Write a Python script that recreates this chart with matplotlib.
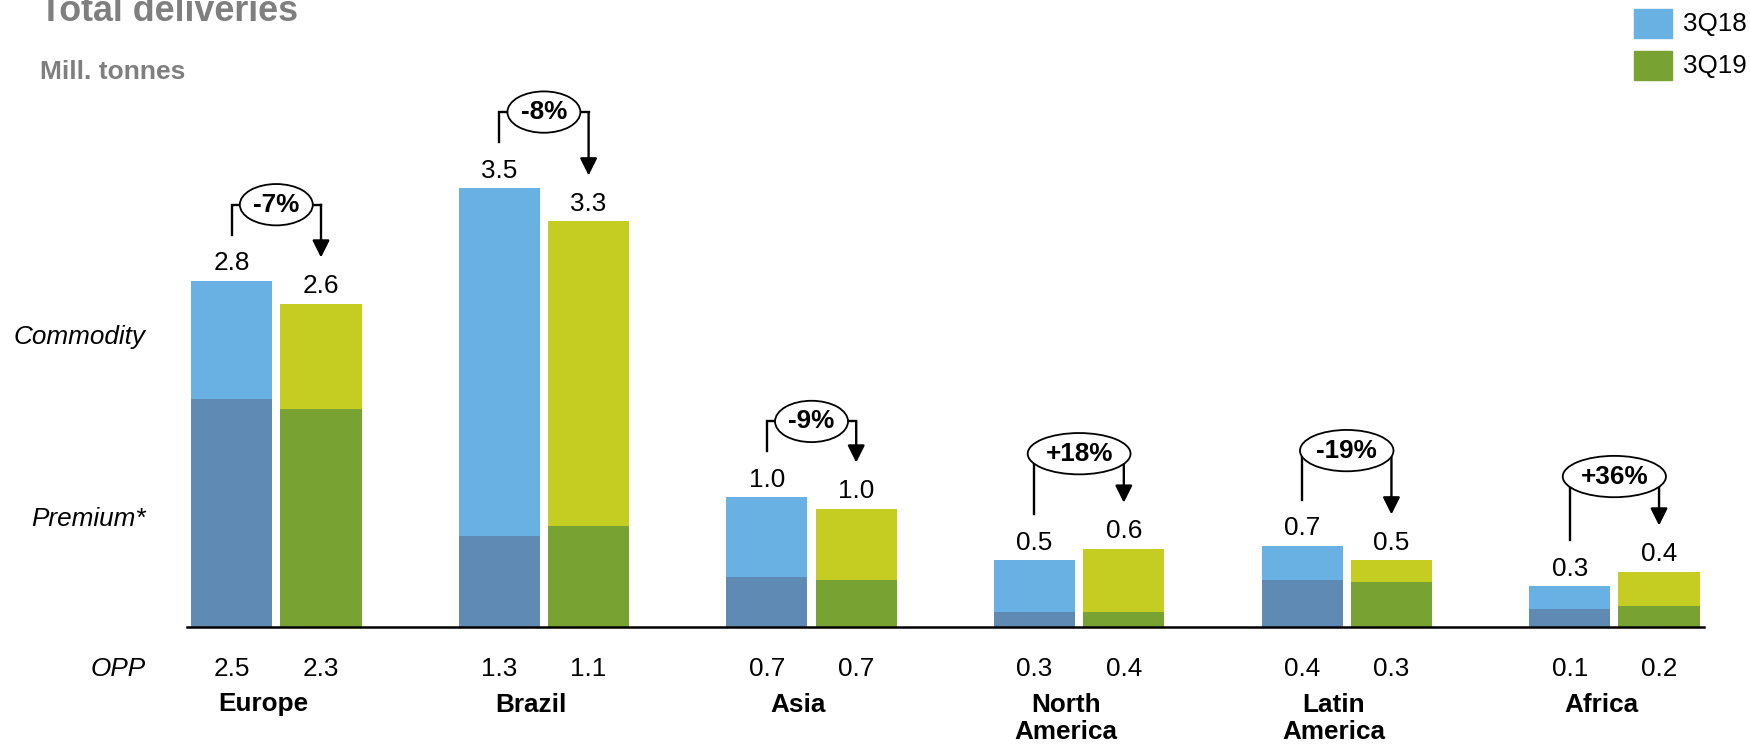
import matplotlib
matplotlib.use("Agg")
import matplotlib.pyplot as plt
from matplotlib.patches import Rectangle
from matplotlib.transforms import blended_transform_factory

plt.rcParams["font.family"] = ["Liberation Sans", "DejaVu Sans"]

# data
regions = ["Europe", "Brazil", "Asia", "North\nAmerica", "Latin\nAmerica", "Africa"]
total_18 = [2.80, 3.55, 1.045, 0.535, 0.655, 0.325]
total_19 = [2.615, 3.28, 0.955, 0.63, 0.535, 0.445]
premium_18 = [1.84, 0.73, 0.40, 0.115, 0.38, 0.14]
premium_19 = [1.765, 0.81, 0.38, 0.12, 0.36, 0.17]
label_18 = ["2.8", "3.5", "1.0", "0.5", "0.7", "0.3"]
label_19 = ["2.6", "3.3", "1.0", "0.6", "0.5", "0.4"]
opp_18 = ["2.5", "1.3", "0.7", "0.3", "0.4", "0.1"]
opp_19 = ["2.3", "1.1", "0.7", "0.4", "0.3", "0.2"]
change = ["-7%", "-8%", "-9%", "+18%", "-19%", "+36%"]

# colours
light_blue = "#69B1E3"
dark_blue = "#5F8AB4"
lime = "#C5CC22"
green = "#78A232"
grey = "#7F7F7F"

FS = 18.8
W, H = 1750, 744
fig = plt.figure(figsize=(W / 100, H / 100), dpi=100)
ax = fig.add_axes([187 / W, 117.5 / H, (1704 - 187) / W, 537 / H])
px = 123.5  # pixels per data unit (vertical)
ax.set_xlim(-0.3337, 5.335)
ax.set_ylim(0, 537 / px)

x = list(range(len(regions)))
bw = 0.303
off = 0.167
x18 = [i - off for i in x]
x19 = [i + off for i in x]

ax.bar(x18, total_18, bw, color=light_blue, zorder=2)
ax.bar(x18, premium_18, bw, color=dark_blue, zorder=2)
ax.bar(x19, total_19, bw, color=lime, zorder=2)
ax.bar(x19, premium_19, bw, color=green, zorder=2)

for xs, tops, labs in [(x18, total_18, label_18), (x19, total_19, label_19)]:
    for xi, t, lab in zip(xs, tops, labs):
        ax.annotate(lab, (xi, t), xytext=(0, 4), textcoords="offset points",
                    ha="center", va="bottom", fontsize=FS)

# change brackets
for i in x:
    a, b = total_18[i], total_19[i]
    start = a + 46 / px
    tip = b + 46 / px
    lift = 95 / px if len(change[i]) >= 4 else 76 / px
    by = max(a, b) + lift
    ax.plot([x18[i], x18[i], x19[i]], [start, by, by], color="black", lw=1.7,
            zorder=3, clip_on=False, solid_joinstyle="miter")
    ax.annotate("", xy=(x19[i], tip), xytext=(x19[i], by),
                arrowprops=dict(arrowstyle="-|>", color="black", lw=1.7,
                                mutation_scale=26, shrinkA=0, shrinkB=0),
                zorder=3, annotation_clip=False)
    ax.text(i, by, change[i], ha="center", va="center", fontsize=FS,
            fontweight="bold", zorder=5,
            bbox=dict(boxstyle="ellipse,pad=0.1", fc="white", ec="black", lw=1.3))

# OPP numbers and region names under the axis
for i in x:
    ax.text(x18[i], -42 / px, opp_18[i], ha="center", va="center", fontsize=FS)
    ax.text(x19[i], -42 / px, opp_19[i], ha="center", va="center", fontsize=FS)
    ax.text(i - 0.05, -66 / px, regions[i], ha="center", va="top", fontsize=FS,
            fontweight="bold", linespacing=1.2)

# row labels on the left
tr = blended_transform_factory(fig.transFigure, ax.transData)
ax.text(146 / W, 290 / px, "Commodity", transform=tr, ha="right", va="center",
        fontsize=FS, style="italic")
ax.text(146 / W, 108 / px, "Premium*", transform=tr, ha="right", va="center",
        fontsize=FS, style="italic")
ax.text(146 / W, -42 / px, "OPP", transform=tr, ha="right", va="center",
        fontsize=FS, style="italic")

for s in ["top", "right", "left"]:
    ax.spines[s].set_visible(False)
ax.spines["bottom"].set_linewidth(1.8)
ax.spines["bottom"].set_zorder(4)
ax.set_xticks([])
ax.set_yticks([])

# titles
fig.text(40 / W, 1 - 21 / H, "Total deliveries", ha="left", va="baseline",
         fontsize=25.8, fontweight="bold", color=grey)
fig.text(40 / W, 1 - 79 / H, "Mill. tonnes", ha="left", va="baseline",
         fontsize=19, fontweight="bold", color=grey)

# legend
for (lab, col), yc in zip([("3Q18", light_blue), ("3Q19", green)], [23.5, 65.5]):
    fig.patches.append(Rectangle((1634 / W, 1 - (yc + 14.5) / H), 38 / W, 29 / H,
                                 transform=fig.transFigure, color=col))
    fig.text(1683 / W, 1 - yc / H, lab, ha="left", va="center", fontsize=FS)

fig.savefig("out.png", dpi=100, facecolor="white")
